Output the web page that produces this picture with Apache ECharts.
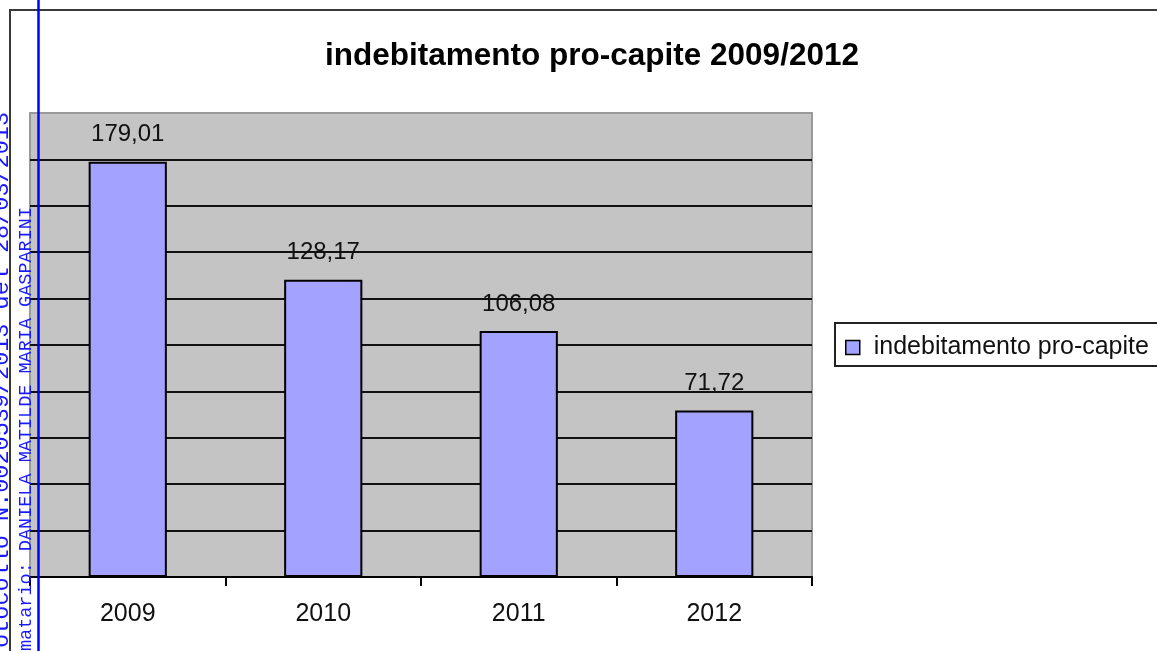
<!DOCTYPE html>
<html>
<head>
<meta charset="utf-8">
<script src="https://cdn.jsdelivr.net/npm/echarts@6/dist/echarts.min.js"></script>
<style>
html,body{margin:0;padding:0;background:#fff;}
#chart{width:1157px;height:651px;}
</style>
</head>
<body>
<div id="chart"></div>
<script>
var categories = ['2009', '2010', '2011', '2012'];
var values = [179.01, 128.17, 106.08, 71.72];
var seriesName = 'indebitamento pro-capite';
var titleText = 'indebitamento pro-capite 2009/2012';
var stampLine1 = 'Protocollo N.0020539/2013 del 28/03/2013';
var stampLine2 = 'Firmatario: DANIELA MATILDE MARIA GASPARINI';

var chart = echarts.init(document.getElementById('chart'), null, {renderer: 'canvas'});
var option = {
  animation: false,
  backgroundColor: '#ffffff',
  title: {
    text: titleText,
    left: 592,
    top: 40,
    textAlign: 'center',
    padding: 0,
    textStyle: {fontFamily: 'Liberation Sans', fontWeight: 'bold', fontSize: 31.5, color: '#000'}
  },
  legend: {
    data: [seriesName],
    left: 835,
    top: 323,
    orient: 'vertical',
    padding: [12, 60, 6, 10],
    backgroundColor: '#fff',
    borderColor: '#222',
    borderWidth: 2,
    borderRadius: 0,
    itemWidth: 14,
    itemHeight: 14,
    icon: 'rect',
    itemStyle: {color: '#a3a3ff', borderColor: '#000', borderWidth: 1.5},
    textStyle: {fontFamily: 'Liberation Sans', fontSize: 25, color: '#111', padding: [0, 0, 0, 9]}
  },
  grid: {
    left: 30, right: 345, top: 113, bottom: 74,
    show: true,
    backgroundColor: '#c4c4c4',
    borderColor: '#9a9a9a',
    borderWidth: 2,
    containLabel: false
  },
  xAxis: {
    type: 'category',
    data: categories,
    boundaryGap: true,
    axisLine: {show: true, lineStyle: {color: '#000', width: 2}},
    axisTick: {show: true, length: 9, lineStyle: {color: '#000', width: 2}},
    axisLabel: {margin: 25, fontFamily: 'Liberation Sans', fontSize: 25, color: '#111'},
    z: 5
  },
  yAxis: {
    type: 'value',
    min: 0,
    max: 200,
    interval: 20,
    axisLine: {show: false},
    axisTick: {show: false},
    axisLabel: {show: false},
    splitLine: {show: true, showMaxLine: false, showMinLine: false, lineStyle: {color: '#111', width: 2}}
  },
  series: [{
    name: seriesName,
    type: 'bar',
    data: values,
    barCategoryGap: '60%',
    itemStyle: {color: '#a3a3ff', borderColor: '#000', borderWidth: 2},
    label: {
      show: true,
      position: 'top',
      distance: 15,
      fontFamily: 'Liberation Sans',
      fontSize: 24,
      color: '#111',
      formatter: function (p) { return p.value.toFixed(2).replace('.', ','); }
    }
  }],
  graphic: [
    {
      type: 'rect', z: 100, silent: true,
      shape: {x: 10, y: 10, width: 1300, height: 800},
      style: {fill: 'none', stroke: '#3a3a3a', lineWidth: 2}
    },
    {
      type: 'text', z: 101, silent: true,
      x: 14, y: 112, rotation: Math.PI / 2,
      style: {text: stampLine1, textAlign: 'right', textVerticalAlign: 'bottom',
        font: '23.5px "Liberation Mono"', fill: '#1a1aff'}
    },
    {
      type: 'text', z: 101, silent: true,
      x: 36, y: 207, rotation: Math.PI / 2,
      style: {text: stampLine2, textAlign: 'right', textVerticalAlign: 'bottom',
        font: '18.5px "Liberation Mono"', fill: '#1a1aff'}
    },
    {
      type: 'line', z: 102, silent: true,
      shape: {x1: 38.5, y1: 0, x2: 38.5, y2: 651},
      style: {stroke: '#0000ff', lineWidth: 2.5}
    }
  ]
};
chart.setOption(option);
</script>
</body>
</html>
